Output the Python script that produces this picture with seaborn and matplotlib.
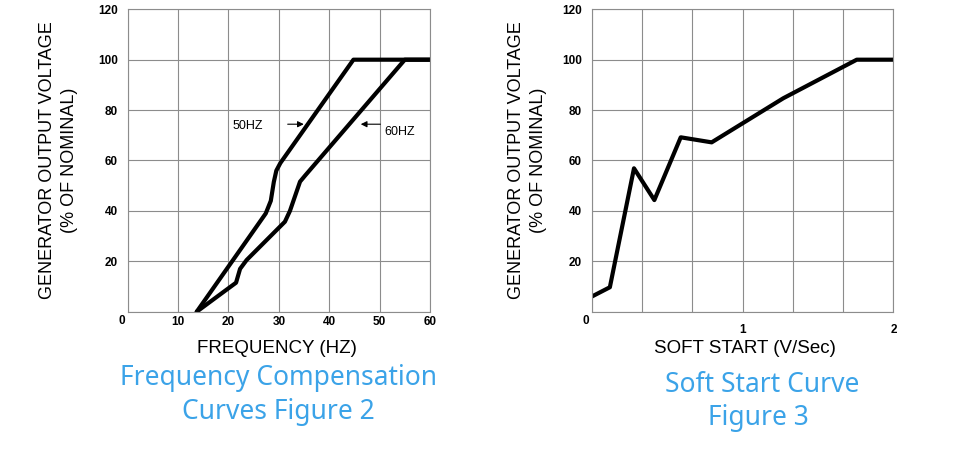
import pandas as pd
import numpy as np
import matplotlib
matplotlib.use("Agg")
import matplotlib.pyplot as plt
import seaborn as sns

# data
freq_50 = [13.7, 27.4, 28.4, 29.0, 29.5, 30.3, 44.8, 60.0]
volt_50 = [0.0, 39.0, 44.0, 51.5, 56.0, 59.0, 100.0, 100.0]

freq_60 = [13.7, 20.0, 21.5, 22.3, 23.6, 31.2, 32.2, 34.2, 35.2, 55.0, 60.0]
volt_60 = [0.0, 9.3, 11.5, 17.0, 20.5, 35.7, 40.0, 51.6, 54.0, 100.0, 100.0]

soft_x = [0.0, 0.12, 0.28, 0.415, 0.59, 0.795, 1.27, 1.757, 2.0]
soft_y = [6.0, 9.7, 56.9, 44.3, 69.2, 67.2, 84.7, 100.0, 100.0]

freq_ticks = [0, 10, 20, 30, 40, 50, 60]
soft_ticks = [0, 1/3, 2/3, 1, 4/3, 5/3, 2]
soft_tick_labels = ["", "", "", "1", "", "", "2"]
volt_ticks = [0, 20, 40, 60, 80, 100, 120]

df50 = pd.DataFrame({"freq": freq_50, "volt": volt_50})
df60 = pd.DataFrame({"freq": freq_60, "volt": volt_60})
dfs = pd.DataFrame({"rate": soft_x, "volt": soft_y})

sns.set_style("white")
plt.rcParams["font.family"] = ["Liberation Sans", "DejaVu Sans"]
plt.rcParams["text.color"] = "black"
plt.rcParams["axes.labelcolor"] = "black"
plt.rcParams["xtick.color"] = "black"
plt.rcParams["ytick.color"] = "black"

fig = plt.figure(figsize=(9.56, 4.49), dpi=100)
ax1 = fig.add_axes([0.1336, 0.3058, 0.3162, 0.6735])
ax2 = fig.add_axes([0.619, 0.3058, 0.3155, 0.6735])

grid_col = "#8c8c8c"
blue = "#3ba3e8"

# left chart
sns.lineplot(data=df50, x="freq", y="volt", sort=False, estimator=None,
             color="black", linewidth=3, ax=ax1)
sns.lineplot(data=df60, x="freq", y="volt", sort=False, estimator=None,
             color="black", linewidth=3, ax=ax1)
ax1.set_xlim(0, 60)
ax1.set_xticks(freq_ticks)
ax1.set_xticklabels([""] + [str(t) for t in freq_ticks[1:]])

ax1.annotate("", xy=(35.5, 74.4), xytext=(31.2, 74.4),
             arrowprops=dict(arrowstyle="-|>", color="black", lw=0.8,
                             mutation_scale=9))
ax1.annotate("", xy=(45.7, 74.4), xytext=(50.7, 74.4),
             arrowprops=dict(arrowstyle="-|>", color="black", lw=0.8,
                             mutation_scale=9))
ax1.text(23.9, 73.7, "50HZ", fontsize=9, ha="center", va="center")
ax1.text(54.0, 71.2, "60HZ", fontsize=9, ha="center", va="center")
ax1.set_xlabel("FREQUENCY (HZ)", fontsize=13.5)
ax1.xaxis.set_label_coords(0.493, -0.123)
ax1.set_ylabel("GENERATOR OUTPUT VOLTAGE\n(% OF NOMINAL)", fontsize=13,
               linespacing=1.45)
ax1.yaxis.set_label_coords(-0.229, 0.5)
ax1.tick_params(axis="x", pad=3)

# right chart
sns.lineplot(data=dfs, x="rate", y="volt", sort=False, estimator=None,
             color="black", linewidth=3, ax=ax2)
ax2.set_xlim(0, 2)
ax2.set_xticks(soft_ticks)
ax2.set_xticklabels(soft_tick_labels)
ax2.set_xlabel("SOFT START (V/Sec)", fontsize=13.5)
ax2.xaxis.set_label_coords(0.508, -0.123)
ax2.set_ylabel("GENERATOR OUTPUT VOLTAGE\n(% OF NOMINAL)", fontsize=13,
               linespacing=1.35)
ax2.yaxis.set_label_coords(-0.213, 0.5)
ax2.tick_params(axis="x", pad=9)

for ax in (ax1, ax2):
    ax.xaxis.label.set_va("center")
    ax.yaxis.label.set_va("center")
    ax.yaxis.label.set_ha("center")
    ax.set_ylim(0, 120)
    ax.set_yticks(volt_ticks)
    ax.set_yticklabels([""] + [str(t) for t in volt_ticks[1:]])
    ax.grid(True, color=grid_col, linewidth=0.8)
    ax.set_axisbelow(True)
    ax.tick_params(length=0, labelsize=8.5)
    ax.tick_params(axis="y", pad=7)
    for lab in ax.get_xticklabels() + ax.get_yticklabels():
        lab.set_fontweight("bold")
    for sp in ax.spines.values():
        sp.set_color(grid_col)
        sp.set_linewidth(0.8)
    ax.annotate("0", xy=(0, 0), xycoords="axes fraction",
                xytext=(-4.5, -6.5), textcoords="offset points",
                fontsize=8.5, fontweight="bold", ha="center", va="center")

# captions under each chart
cap = dict(color=blue, fontsize=19, ha="center", va="center",
           family=["Noto Sans", "DejaVu Sans"])
fig.text(278 / 956, 1 - 378 / 449, "Frequency Compensation", **cap)
fig.text(278 / 956, 1 - 411.7 / 449, "Curves Figure 2", **cap)
fig.text(761.7 / 956, 1 - 385 / 449, "Soft Start Curve", **cap)
fig.text(758 / 956, 1 - 418 / 449, "Figure 3", **cap)

fig.savefig("out.png", dpi=100)
